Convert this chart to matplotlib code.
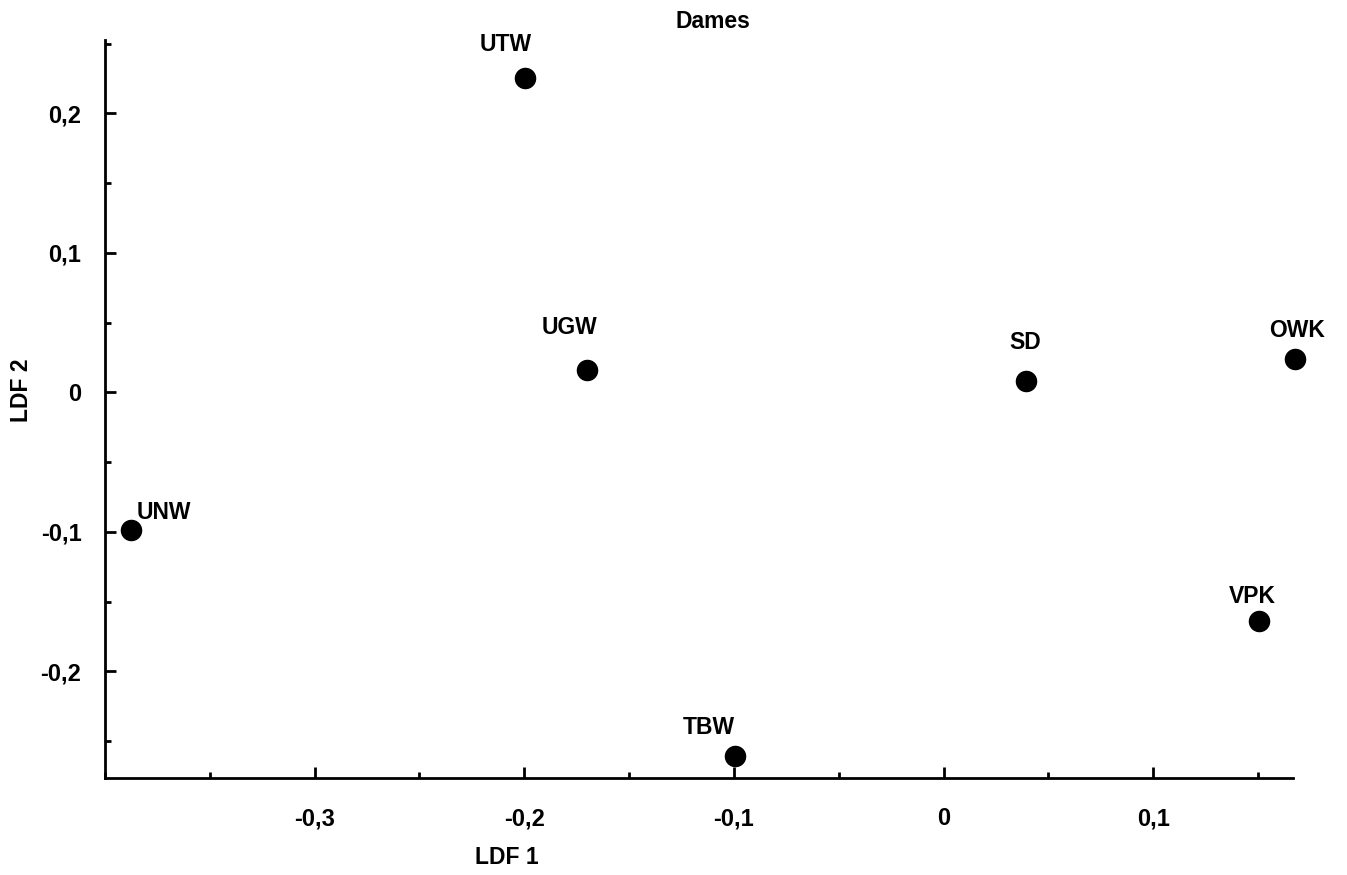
import matplotlib
matplotlib.use("Agg")
import matplotlib.pyplot as plt
from matplotlib.ticker import MultipleLocator, FixedFormatter, FixedLocator

plt.rcParams['font.family'] = ['Liberation Sans', 'DejaVu Sans']

# discriminant function scores per group
groups = ['UTW', 'UGW', 'SD', 'OWK', 'VPK', 'UNW', 'TBW']
ldf1 = [-0.1995, -0.170, 0.0395, 0.1676, 0.1505, -0.3876, -0.0995]
ldf2 = [0.2257, 0.0160, 0.0082, 0.0239, -0.1636, -0.0988, -0.2606]

xticks = [-0.3, -0.2, -0.1, 0.0, 0.1]
xtick_labels = ['-0,3', '-0,2', '-0,1', '0', '0,1']
yticks = [-0.2, -0.1, 0.0, 0.1, 0.2]
ytick_labels = ['-0,2', '-0,1', '0', '0,1', '0,2']

# label offsets in pixels relative to each point
label_offsets = {
    'UTW': (-20, 33), 'UGW': (-18, 43), 'SD': (-1, 38), 'OWK': (2, 29),
    'VPK': (-7, 24), 'UNW': (33, 18), 'TBW': (-26, 28),
}

fig = plt.figure(figsize=(13.47, 8.75), dpi=100)
ax = fig.add_axes([105 / 1347, 1 - 778 / 875, (1293 - 105) / 1347, (778 - 40) / 875])

ax.scatter(ldf1, ldf2, s=210, color='black', zorder=3, clip_on=False)
for name, x, y in zip(groups, ldf1, ldf2):
    dx, dy = label_offsets[name]
    ax.annotate(name, (x, y), xytext=(dx, dy), textcoords='offset pixels',
                ha='center', va='center', fontsize=16.5, fontweight='bold',
                annotation_clip=False)

ax.set_xlim(-0.4, 0.1667)
ax.set_ylim(-0.2764, 0.2526)

ax.xaxis.set_major_locator(FixedLocator(xticks))
ax.xaxis.set_major_formatter(FixedFormatter(xtick_labels))
ax.yaxis.set_major_locator(FixedLocator(yticks))
ax.yaxis.set_major_formatter(FixedFormatter(ytick_labels))
ax.xaxis.set_minor_locator(MultipleLocator(0.05))
ax.yaxis.set_minor_locator(MultipleLocator(0.05))

ax.tick_params(which='both', direction='in', width=2, labelsize=17)
ax.tick_params(which='major', length=8)
ax.tick_params(which='minor', length=4.5)
ax.tick_params(axis='x', which='major', pad=21)
ax.tick_params(axis='y', which='major', pad=17)
for lbl in ax.get_xticklabels() + ax.get_yticklabels():
    lbl.set_fontweight('bold')

for side in ['top', 'right']:
    ax.spines[side].set_visible(False)
for side in ['left', 'bottom']:
    ax.spines[side].set_linewidth(2)

fig.text(713 / 1347, 1 - 22 / 875, 'Dames', ha='center', va='center', fontsize=16.5, fontweight='bold')
fig.text(507 / 1347, 1 - 858 / 875, 'LDF 1', ha='center', va='center', fontsize=16.5, fontweight='bold')
fig.text(22 / 1347, 1 - 390 / 875, 'LDF 2', ha='center', va='center', rotation=90, fontsize=16.5, fontweight='bold')

fig.savefig('out.png', dpi=100)
